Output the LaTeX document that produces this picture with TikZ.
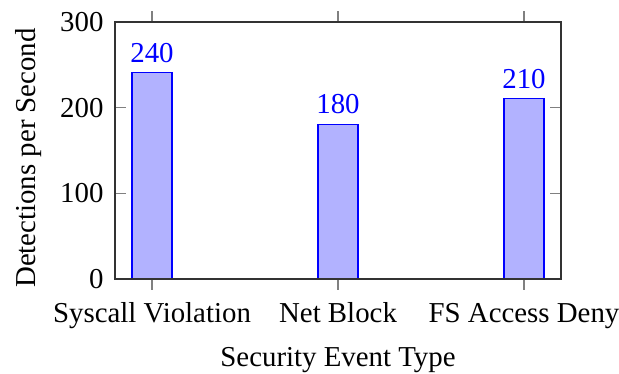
\documentclass[tikz,border=0pt]{standalone}
\usepackage{fontspec}
\setmainfont{Liberation Serif}
\tikzset{
  px/.style={x=0.35pt,y=-0.35pt},
  bar/.style={draw=blue,fill=blue!30!white,line width=0.4pt},
  vallabel/.style={text=blue,anchor=base,inner sep=0pt,font=\fontsize{10.1}{12}\selectfont},
  ticklabel/.style={inner sep=0pt,font=\fontsize{10.1}{12}\selectfont},
  tickmark/.style={draw=gray,line width=0.4pt},
  axisframe/.style={draw=black!80,line width=0.4pt}
}
\begin{document}
\begin{tikzpicture}[px]
\useasboundingbox (0,0) rectangle (619,374);
% axis frame corners
\coordinate (bl) at (115,279);
\coordinate (tr) at (561,22);
% bars
\node[bar,inner sep=0pt,minimum width=40*0.35pt,minimum height=205.6*0.35pt,anchor=south] (b1) at (152,279) {};
\node[bar,inner sep=0pt,minimum width=40*0.35pt,minimum height=154.2*0.35pt,anchor=south] (b2) at (338,279) {};
\node[bar,inner sep=0pt,minimum width=40*0.35pt,minimum height=179.9*0.35pt,anchor=south] (b3) at (524,279) {};
% value labels
\node[vallabel] (v1) at (152,62.5) {240};
\node[vallabel] (v2) at (338,114) {180};
\node[vallabel] (v3) at (524,88.5) {210};
% x ticks (outward)
\foreach \x in {152,338,524}{
  \draw[tickmark] (\x,279) -- (\x,290);
  \draw[tickmark] (\x,22) -- (\x,11);
}
% y ticks (inward)
\foreach \y in {279,193.3,107.7,22}{
  \draw[tickmark] (115,\y) -- (126,\y);
  \draw[tickmark] (561,\y) -- (550,\y);
}
\draw[axisframe] (bl) rectangle (tr);
% y tick labels
\node[ticklabel,anchor=east] (y0) at (104,279) {0};
\node[ticklabel,anchor=east] (y1) at (104,193.3) {100};
\node[ticklabel,anchor=east] (y2) at (104,107.7) {200};
\node[ticklabel,anchor=east] (y3) at (104,22) {300};
% x tick labels
\node[ticklabel,anchor=base] (x1) at (152,322) {Syscall Violation};
\node[ticklabel,anchor=base] (x2) at (338,322) {Net Block};
\node[ticklabel,anchor=base] (x3) at (524,322) {FS Access Deny};
% axis labels
\node[ticklabel,anchor=base] (xl) at (338,366.5) {Security Event Type};
\node[ticklabel,anchor=base,rotate=90] (yl) at (35,158) {Detections per Second};
\end{tikzpicture}
\end{document}
